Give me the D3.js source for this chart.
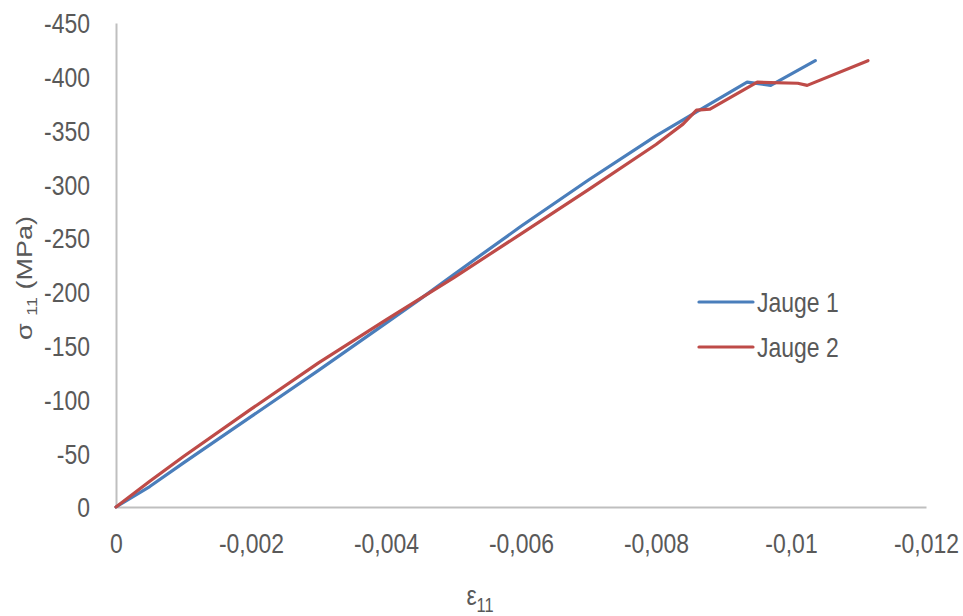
<!DOCTYPE html>
<html>
<head>
<meta charset="utf-8">
<script src="https://cdn.jsdelivr.net/npm/d3@7"></script>
<style>
	body { margin: 0; background: #fff; }
	text { font-family: "Liberation Sans", Arial, sans-serif; fill: #595959; }
</style>
</head>
<body>
<svg id="chart" width="963" height="616"></svg>
<script>
// data (strain, stress in MPa)
var strainJauge1 = [0, -0.0005, -0.001, -0.002, -0.003, -0.004, -0.0045, -0.005, -0.006, -0.007, -0.008, -0.0084, -0.0087, -0.00935, -0.0097, -0.01036];
var stressJauge1 = [0, -19, -41, -84, -127, -171, -193, -216, -261, -304, -345, -360, -371, -395, -392, -415];
var strainJauge2 = [0, -0.0005, -0.001, -0.002, -0.003, -0.004, -0.005, -0.006, -0.007, -0.008, -0.0084, -0.0086, -0.0088, -0.0095, -0.0101, -0.01024, -0.01114];
var stressJauge2 = [0, -24, -47, -91, -134, -174, -213, -254, -295, -337, -356, -369, -370, -395, -394, -392, -415];
var seriesNames = ['Jauge 1', 'Jauge 2'];
var seriesColors = ['#4a7ebb', '#be4b48'];
var xTicks = [0, -0.002, -0.004, -0.006, -0.008, -0.01, -0.012];
var yTicks = [0, -50, -100, -150, -200, -250, -300, -350, -400, -450];

var squeeze = 0.82; // text in the picture is narrow

var svg = d3.select('#chart');

var x = d3.scaleLinear().domain([0, -0.012]).range([116, 926]);
var y = d3.scaleLinear().domain([0, -450]).range([507, 23]);

var fmt = function(d) { return String(d).replace('.', ','); };

// x axis
var gx = svg.append('g')
	.attr('transform', 'translate(0,' + y(0) + ')')
	.call(d3.axisBottom(x).tickValues(xTicks).tickFormat(fmt).tickSize(0).tickPadding(26));
gx.select('.domain').attr('stroke', '#bfbfbf').attr('stroke-width', 2);
gx.selectAll('text')
	.attr('font-size', 28)
	.attr('dy', '0.35em')
	.attr('y', 36)
	.attr('transform', 'scale(' + squeeze + ',1)')
	.style('fill', '#595959');

// y axis
var gy = svg.append('g')
	.attr('transform', 'translate(' + x(0) + ',0)')
	.call(d3.axisLeft(y).tickValues(yTicks).tickFormat(fmt).tickSize(0));
gy.select('.domain').attr('stroke', '#bfbfbf').attr('stroke-width', 2);
gy.selectAll('text')
	.attr('font-size', 28)
	.attr('x', -26 / squeeze)
	.attr('dy', '0.35em')
	.attr('transform', 'scale(' + squeeze + ',1)')
	.style('fill', '#595959');
svg.selectAll('.tick line').remove();

// lines
var line = d3.line()
	.x(function(d) { return x(d[0]); })
	.y(function(d) { return y(d[1]); });

var series = [
	d3.zip(strainJauge1, stressJauge1),
	d3.zip(strainJauge2, stressJauge2)
];

series.forEach(function(pts, i) {
	svg.append('path')
		.datum(pts)
		.attr('d', line)
		.attr('fill', 'none')
		.attr('stroke', seriesColors[i])
		.attr('stroke-width', 3.2)
		.attr('stroke-linejoin', 'round')
		.attr('stroke-linecap', 'round');
});

// legend
var legend = svg.append('g');
seriesNames.forEach(function(name, i) {
	var ly = 302 + i * 45;
	legend.append('line')
		.attr('x1', 699).attr('x2', 753)
		.attr('y1', ly).attr('y2', ly)
		.attr('stroke', seriesColors[i])
		.attr('stroke-width', 3.2)
		.attr('stroke-linecap', 'round');
	legend.append('text')
		.attr('transform', 'translate(757,' + ly + ') scale(' + squeeze + ',1)')
		.attr('dy', '0.35em')
		.attr('font-size', 28)
		.text(name);
});

// axis titles
var yTitle = svg.append('text')
	.attr('transform', 'translate(32,278) scale(' + squeeze + ',1) rotate(-90)')
	.attr('text-anchor', 'middle')
	.attr('font-size', 27);
yTitle.append('tspan').text('σ ');
yTitle.append('tspan').attr('font-size', 18).attr('dy', 6).text('11');
yTitle.append('tspan').attr('dy', -6).text(' (MPa)');

var xTitle = svg.append('text')
	.attr('transform', 'translate(480,605) scale(' + squeeze + ',1)')
	.attr('text-anchor', 'middle')
	.attr('font-size', 28);
xTitle.append('tspan').text('ε');
xTitle.append('tspan').attr('font-size', 20).attr('dy', 7).text('11');
</script>
</body>
</html>
